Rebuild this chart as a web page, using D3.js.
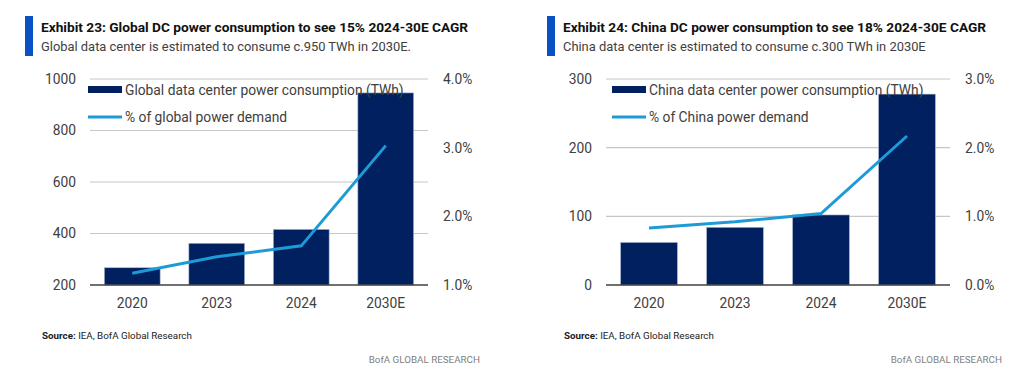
<!DOCTYPE html>
<html>
<head>
<meta charset="utf-8">
<script src="https://cdn.jsdelivr.net/npm/d3@7"></script>
<style>
  body { margin: 0; background: #fff; }
  svg { display: block; font-family: Roboto, "Liberation Sans", sans-serif; }
</style>
</head>
<body>
<svg id="chart" width="1024" height="373"></svg>
<script>
// data
const categories = ["2020", "2023", "2024", "2030E"];

const globalTWh = [267, 362, 416, 946];
const globalShare = [1.17, 1.41, 1.57, 3.03];
const globalLeftTicks = [200, 400, 600, 800, 1000];
const globalRightTicks = [1, 2, 3, 4];

const chinaTWh = [62, 84, 102, 278];
const chinaShare = [0.83, 0.92, 1.04, 2.17];
const chinaLeftTicks = [0, 100, 200, 300];
const chinaRightTicks = [0, 1, 2, 3];

const titles = [
  "Exhibit 23: Global DC power consumption to see 15% 2024-30E CAGR",
  "Exhibit 24: China DC power consumption to see 18% 2024-30E CAGR"
];
const subtitles = [
  "Global data center is estimated to consume c.950 TWh in 2030E.",
  "China data center is estimated to consume c.300 TWh in 2030E"
];
const barLegends = [
  "Global data center power consumption (TWh)",
  "China data center power consumption (TWh)"
];
const lineLegends = ["% of global power demand", "% of China power demand"];

const navy = "#002060";
const lineBlue = "#1e9bd7";
const accent = "#0a52c4";
const textColor = "#404040";

const svg = d3.select("#chart");

function drawPanel(cfg) {
  const g = svg.append("g");
  const top = 79, bottom = 285;

  // title block
  g.append("rect")
    .attr("x", cfg.ox).attr("y", 16)
    .attr("width", 8).attr("height", 40)
    .attr("fill", accent);

  g.append("text")
    .attr("x", cfg.ox + 16).attr("y", 32)
    .attr("font-weight", "bold")
    .attr("font-size", 13.7)
    .attr("fill", "#111")
    .text(cfg.title);

  g.append("text")
    .attr("x", cfg.ox + 16).attr("y", 51)
    .attr("font-size", 12.9)
    .attr("fill", textColor)
    .text(cfg.subtitle);

  const x = d3.scaleBand()
    .domain(categories)
    .range([cfg.left, cfg.right])
    .paddingInner(0.34)
    .paddingOuter(0.17);

  const y = d3.scaleLinear().domain(cfg.yDomain).range([bottom, top]);
  const y2 = d3.scaleLinear().domain(cfg.y2Domain).range([bottom, top]);

  // grid lines
  g.append("g")
    .selectAll("line")
    .data(cfg.leftTicks.slice(1))
    .join("line")
    .attr("x1", cfg.left).attr("x2", cfg.right)
    .attr("y1", (d) => y(d)).attr("y2", (d) => y(d))
    .attr("stroke", "#c6c6c6")
    .attr("stroke-width", 1.2);

  // left axis
  const yAxis = g.append("g")
    .attr("transform", `translate(${cfg.left - 14},0)`)
    .call(d3.axisLeft(y).tickValues(cfg.leftTicks).tickSize(0).tickPadding(0)
      .tickFormat(d3.format("d")));
  yAxis.select(".domain").remove();

  // right axis
  const y2Axis = g.append("g")
    .attr("transform", `translate(${cfg.right + 15},0)`)
    .call(d3.axisRight(y2).tickValues(cfg.rightTicks).tickSize(0).tickPadding(0)
      .tickFormat((d) => d3.format(".1f")(d) + "%"));
  y2Axis.select(".domain").remove();

  [yAxis, y2Axis].forEach((a) => {
    a.selectAll("text")
      .attr("font-size", 13.8)
      .attr("font-family", "Roboto, sans-serif")
      .attr("fill", textColor);
  });

  // bars
  g.append("g")
    .selectAll("rect")
    .data(cfg.bars)
    .join("rect")
    .attr("x", (d, i) => x(categories[i]))
    .attr("y", (d) => y(d))
    .attr("width", x.bandwidth())
    .attr("height", (d) => bottom - y(d))
    .attr("fill", navy)
    .attr("stroke", "#a9b6cc")
    .attr("stroke-width", 0.6);

  // baseline
  g.append("line")
    .attr("x1", cfg.left).attr("x2", cfg.right)
    .attr("y1", bottom).attr("y2", bottom)
    .attr("stroke", "#404040")
    .attr("stroke-width", 1.5);

  // x axis labels
  const xAxis = g.append("g")
    .attr("transform", `translate(0,${bottom})`)
    .call(d3.axisBottom(x).tickSize(0).tickPadding(13));
  xAxis.select(".domain").remove();
  xAxis.selectAll("text")
    .attr("font-size", 13.8)
    .attr("font-family", "Roboto, sans-serif")
    .attr("fill", textColor);

  // line series
  const line = d3.line()
    .x((d, i) => x(categories[i]) + x.bandwidth() / 2)
    .y((d) => y2(d));

  g.append("path")
    .attr("d", line(cfg.share))
    .attr("fill", "none")
    .attr("stroke", lineBlue)
    .attr("stroke-width", 3);

  // legend
  g.append("rect")
    .attr("x", cfg.legendX).attr("y", 86)
    .attr("width", 34).attr("height", 7)
    .attr("fill", navy);
  g.append("text")
    .attr("x", cfg.legendX + 37).attr("y", 94.5)
    .attr("font-size", 13.8)
    .attr("fill", textColor)
    .text(cfg.barLegend);

  g.append("line")
    .attr("x1", cfg.legendX).attr("x2", cfg.legendX + 34)
    .attr("y1", 117).attr("y2", 117)
    .attr("stroke", lineBlue)
    .attr("stroke-width", 3);
  g.append("text")
    .attr("x", cfg.legendX + 37).attr("y", 122)
    .attr("font-size", 13.8)
    .attr("fill", textColor)
    .text(cfg.lineLegend);

  // source + footer
  const src = g.append("text")
    .attr("x", cfg.ox + 17).attr("y", 339)
    .attr("font-size", 9.8)
    .attr("fill", "#222");
  src.append("tspan").attr("font-weight", "bold").text("Source:");
  src.append("tspan").text(" IEA, BofA Global Research");

  g.append("text")
    .attr("x", cfg.right + 52).attr("y", 363)
    .attr("text-anchor", "end")
    .attr("font-size", 9.8)
    .attr("fill", "#7f7f7f")
    .text("BofA GLOBAL RESEARCH");
}

drawPanel({
  ox: 25, left: 90, right: 428, legendX: 88,
  title: titles[0], subtitle: subtitles[0],
  barLegend: barLegends[0], lineLegend: lineLegends[0],
  bars: globalTWh, share: globalShare,
  yDomain: [200, 1000], y2Domain: [1, 4],
  leftTicks: globalLeftTicks, rightTicks: globalRightTicks
});

drawPanel({
  ox: 547, left: 606, right: 950, legendX: 612,
  title: titles[1], subtitle: subtitles[1],
  barLegend: barLegends[1], lineLegend: lineLegends[1],
  bars: chinaTWh, share: chinaShare,
  yDomain: [0, 300], y2Domain: [0, 3],
  leftTicks: chinaLeftTicks, rightTicks: chinaRightTicks
});
</script>
</body>
</html>
